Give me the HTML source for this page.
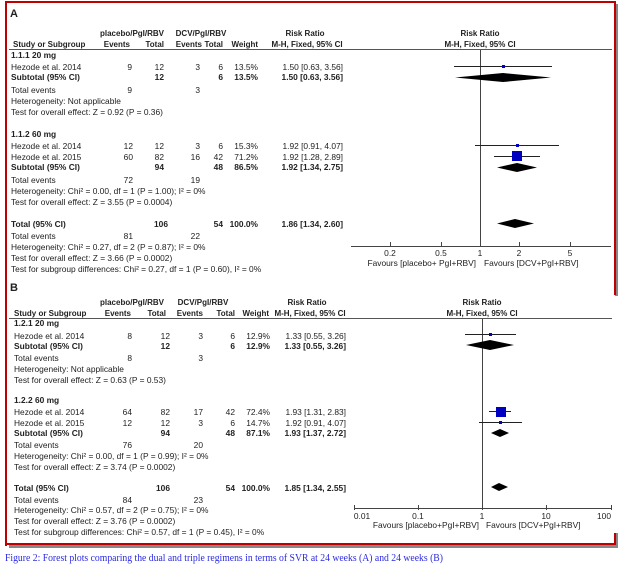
<!DOCTYPE html>
<html><head><meta charset="utf-8"><style>
html,body{margin:0;padding:0;background:#fff;}
svg{display:block}
text{font-family:"Liberation Sans",Arial,sans-serif;font-size:8.4px;fill:#222}
.b{font-weight:bold}
.h{font-weight:bold;font-size:8px}
.cap{font-family:"Liberation Serif",serif;font-size:10px;fill:#2a2ae0}
</style></head><body>
<svg width="623" height="569" viewBox="0 0 623 569">
<rect x="9" y="545" width="609" height="3" fill="#888"/>
<rect x="615" y="4" width="3" height="292" fill="#888"/>
<rect x="615" y="533" width="3" height="15" fill="#888"/>
<rect x="5" y="1" width="611" height="2" fill="#c00000"/>
<rect x="5" y="1" width="2" height="545" fill="#c00000"/>
<rect x="5" y="543" width="611" height="2" fill="#c00000"/>
<rect x="614" y="1" width="2" height="294" fill="#c00000"/>
<rect x="614" y="533" width="2" height="12" fill="#c00000"/>

<!-- ===== Panel A ===== -->
<text x="10" y="17" class="b" style="font-size:11px">A</text>
<text x="132" y="36" class="h" text-anchor="middle">placebo/PgI/RBV</text>
<text x="201" y="36" class="h" text-anchor="middle">DCV/PgI/RBV</text>
<text x="305" y="36" class="h" text-anchor="middle">Risk Ratio</text>
<text x="480" y="36" class="h" text-anchor="middle">Risk Ratio</text>
<text x="13" y="47" class="h">Study or Subgroup</text>
<text x="130" y="47" class="h" text-anchor="end">Events</text>
<text x="164" y="47" class="h" text-anchor="end">Total</text>
<text x="202" y="47" class="h" text-anchor="end">Events</text>
<text x="223" y="47" class="h" text-anchor="end">Total</text>
<text x="258" y="47" class="h" text-anchor="end">Weight</text>
<text x="307" y="47" class="h" text-anchor="middle">M-H, Fixed, 95% CI</text>
<text x="480" y="47" class="h" text-anchor="middle">M-H, Fixed, 95% CI</text>
<rect x="9" y="49" width="603" height="1" fill="#555"/>

<text x="11" y="58" class="b">1.1.1 20 mg</text>
<text x="11" y="70">Hezode et al. 2014</text>
<text x="132" y="70" text-anchor="end">9</text><text x="164" y="70" text-anchor="end">12</text>
<text x="200" y="70" text-anchor="end">3</text><text x="223" y="70" text-anchor="end">6</text>
<text x="258" y="70" text-anchor="end">13.5%</text><text x="343" y="70" text-anchor="end">1.50 [0.63, 3.56]</text>
<text x="11" y="80" class="b">Subtotal (95% CI)</text>
<text x="164" y="80" class="b" text-anchor="end">12</text><text x="223" y="80" class="b" text-anchor="end">6</text>
<text x="258" y="80" class="b" text-anchor="end">13.5%</text><text x="343" y="80" class="b" text-anchor="end">1.50 [0.63, 3.56]</text>
<text x="11" y="93">Total events</text><text x="132" y="93" text-anchor="end">9</text><text x="200" y="93" text-anchor="end">3</text>
<text x="11" y="104">Heterogeneity: Not applicable</text>
<text x="11" y="115">Test for overall effect: Z = 0.92 (P = 0.36)</text>

<text x="11" y="137" class="b">1.1.2 60 mg</text>
<text x="11" y="149">Hezode et al. 2014</text>
<text x="133" y="149" text-anchor="end">12</text><text x="164" y="149" text-anchor="end">12</text>
<text x="200" y="149" text-anchor="end">3</text><text x="223" y="149" text-anchor="end">6</text>
<text x="258" y="149" text-anchor="end">15.3%</text><text x="343" y="149" text-anchor="end">1.92 [0.91, 4.07]</text>
<text x="11" y="160">Hezode et al. 2015</text>
<text x="133" y="160" text-anchor="end">60</text><text x="164" y="160" text-anchor="end">82</text>
<text x="200" y="160" text-anchor="end">16</text><text x="223" y="160" text-anchor="end">42</text>
<text x="258" y="160" text-anchor="end">71.2%</text><text x="343" y="160" text-anchor="end">1.92 [1.28, 2.89]</text>
<text x="11" y="170" class="b">Subtotal (95% CI)</text>
<text x="164" y="170" class="b" text-anchor="end">94</text><text x="223" y="170" class="b" text-anchor="end">48</text>
<text x="258" y="170" class="b" text-anchor="end">86.5%</text><text x="343" y="170" class="b" text-anchor="end">1.92 [1.34, 2.75]</text>
<text x="11" y="183">Total events</text><text x="133" y="183" text-anchor="end">72</text><text x="200" y="183" text-anchor="end">19</text>
<text x="11" y="194">Heterogeneity: Chi² = 0.00, df = 1 (P = 1.00); I² = 0%</text>
<text x="11" y="205">Test for overall effect: Z = 3.55 (P = 0.0004)</text>

<text x="11" y="227" class="b">Total (95% CI)</text>
<text x="168" y="227" class="b" text-anchor="end">106</text><text x="223" y="227" class="b" text-anchor="end">54</text>
<text x="258" y="227" class="b" text-anchor="end">100.0%</text><text x="343" y="227" class="b" text-anchor="end">1.86 [1.34, 2.60]</text>
<text x="11" y="239">Total events</text><text x="133" y="239" text-anchor="end">81</text><text x="200" y="239" text-anchor="end">22</text>
<text x="11" y="250">Heterogeneity: Chi² = 0.27, df = 2 (P = 0.87); I² = 0%</text>
<text x="11" y="261">Test for overall effect: Z = 3.66 (P = 0.0002)</text>
<text x="11" y="272">Test for subgroup differences: Chi² = 0.27, df = 1 (P = 0.60), I² = 0%</text>

<rect x="480" y="50" width="1" height="197" fill="#444"/>
<rect x="351" y="246" width="260" height="1" fill="#444"/>
<g fill="#444">
<rect x="390" y="242" width="1" height="5"/><rect x="441" y="242" width="1" height="5"/>
<rect x="480" y="242" width="1" height="5"/><rect x="519" y="242" width="1" height="5"/><rect x="570" y="242" width="1" height="5"/>
</g>
<text x="390" y="256" text-anchor="middle">0.2</text><text x="441" y="256" text-anchor="middle">0.5</text>
<text x="480" y="256" text-anchor="middle">1</text><text x="519" y="256" text-anchor="middle">2</text><text x="570" y="256" text-anchor="middle">5</text>
<text x="476" y="266" text-anchor="end">Favours [placebo+ PgI+RBV]</text>
<text x="484" y="266">Favours [DCV+PgI+RBV]</text>
<rect x="454" y="66" width="98" height="1" fill="#222"/>
<rect x="502" y="65" width="3" height="3" fill="#0000c0"/>
<polygon points="455,77.5 503,73 551,77.5 503,82" fill="#000"/>
<rect x="475" y="145" width="84" height="1" fill="#222"/>
<rect x="516" y="144" width="3" height="3" fill="#0000c0"/>
<rect x="494" y="156" width="46" height="1" fill="#222"/>
<rect x="512" y="151" width="10" height="10" fill="#0000c0"/>
<polygon points="497,167.5 517,163 537,167.5 517,172" fill="#000"/>
<polygon points="497,223.5 515,219 534,223.5 515,228" fill="#000"/>

<!-- ===== Panel B ===== -->
<text x="10" y="291" class="b" style="font-size:11px">B</text>
<text x="132" y="305" class="h" text-anchor="middle">placebo/PgI/RBV</text>
<text x="203" y="305" class="h" text-anchor="middle">DCV/PgI/RBV</text>
<text x="307" y="305" class="h" text-anchor="middle">Risk Ratio</text>
<text x="482" y="305" class="h" text-anchor="middle">Risk Ratio</text>
<text x="14" y="316" class="h">Study or Subgroup</text>
<text x="131" y="316" class="h" text-anchor="end">Events</text>
<text x="166" y="316" class="h" text-anchor="end">Total</text>
<text x="203" y="316" class="h" text-anchor="end">Events</text>
<text x="235" y="316" class="h" text-anchor="end">Total</text>
<text x="269" y="316" class="h" text-anchor="end">Weight</text>
<text x="310" y="316" class="h" text-anchor="middle">M-H, Fixed, 95% CI</text>
<text x="482" y="316" class="h" text-anchor="middle">M-H, Fixed, 95% CI</text>
<rect x="9" y="318" width="603" height="1" fill="#555"/>

<text x="14" y="326" class="b">1.2.1 20 mg</text>
<text x="14" y="339">Hezode et al. 2014</text>
<text x="132" y="339" text-anchor="end">8</text><text x="170" y="339" text-anchor="end">12</text>
<text x="203" y="339" text-anchor="end">3</text><text x="235" y="339" text-anchor="end">6</text>
<text x="270" y="339" text-anchor="end">12.9%</text><text x="346" y="339" text-anchor="end">1.33 [0.55, 3.26]</text>
<text x="14" y="349" class="b">Subtotal (95% CI)</text>
<text x="170" y="349" class="b" text-anchor="end">12</text><text x="235" y="349" class="b" text-anchor="end">6</text>
<text x="270" y="349" class="b" text-anchor="end">12.9%</text><text x="346" y="349" class="b" text-anchor="end">1.33 [0.55, 3.26]</text>
<text x="14" y="361">Total events</text><text x="132" y="361" text-anchor="end">8</text><text x="203" y="361" text-anchor="end">3</text>
<text x="14" y="372">Heterogeneity: Not applicable</text>
<text x="14" y="383">Test for overall effect: Z = 0.63 (P = 0.53)</text>

<text x="14" y="403" class="b">1.2.2 60 mg</text>
<text x="14" y="415">Hezode et al. 2014</text>
<text x="132" y="415" text-anchor="end">64</text><text x="170" y="415" text-anchor="end">82</text>
<text x="203" y="415" text-anchor="end">17</text><text x="235" y="415" text-anchor="end">42</text>
<text x="270" y="415" text-anchor="end">72.4%</text><text x="346" y="415" text-anchor="end">1.93 [1.31, 2.83]</text>
<text x="14" y="426">Hezode et al. 2015</text>
<text x="132" y="426" text-anchor="end">12</text><text x="170" y="426" text-anchor="end">12</text>
<text x="203" y="426" text-anchor="end">3</text><text x="235" y="426" text-anchor="end">6</text>
<text x="270" y="426" text-anchor="end">14.7%</text><text x="346" y="426" text-anchor="end">1.92 [0.91, 4.07]</text>
<text x="14" y="436" class="b">Subtotal (95% CI)</text>
<text x="170" y="436" class="b" text-anchor="end">94</text><text x="235" y="436" class="b" text-anchor="end">48</text>
<text x="270" y="436" class="b" text-anchor="end">87.1%</text><text x="346" y="436" class="b" text-anchor="end">1.93 [1.37, 2.72]</text>
<text x="14" y="448">Total events</text><text x="132" y="448" text-anchor="end">76</text><text x="203" y="448" text-anchor="end">20</text>
<text x="14" y="459">Heterogeneity: Chi² = 0.00, df = 1 (P = 0.99); I² = 0%</text>
<text x="14" y="470">Test for overall effect: Z = 3.74 (P = 0.0002)</text>

<text x="14" y="491" class="b">Total (95% CI)</text>
<text x="170" y="491" class="b" text-anchor="end">106</text><text x="235" y="491" class="b" text-anchor="end">54</text>
<text x="270" y="491" class="b" text-anchor="end">100.0%</text><text x="346" y="491" class="b" text-anchor="end">1.85 [1.34, 2.55]</text>
<text x="14" y="503">Total events</text><text x="132" y="503" text-anchor="end">84</text><text x="203" y="503" text-anchor="end">23</text>
<text x="14" y="513">Heterogeneity: Chi² = 0.57, df = 2 (P = 0.75); I² = 0%</text>
<text x="14" y="524">Test for overall effect: Z = 3.76 (P = 0.0002)</text>
<text x="14" y="535">Test for subgroup differences: Chi² = 0.57, df = 1 (P = 0.45), I² = 0%</text>

<rect x="482" y="319" width="1" height="189" fill="#444"/>
<rect x="354" y="508" width="258" height="1" fill="#444"/>
<g fill="#444">
<rect x="354" y="505" width="1" height="5"/><rect x="418" y="505" width="1" height="5"/>
<rect x="482" y="505" width="1" height="5"/><rect x="546" y="505" width="1" height="5"/><rect x="611" y="505" width="1" height="5"/>
</g>
<text x="362" y="519" text-anchor="middle">0.01</text><text x="418" y="519" text-anchor="middle">0.1</text>
<text x="482" y="519" text-anchor="middle">1</text><text x="546" y="519" text-anchor="middle">10</text><text x="604" y="519" text-anchor="middle">100</text>
<text x="479" y="528" text-anchor="end">Favours [placebo+PgI+RBV]</text>
<text x="486" y="528">Favours [DCV+PgI+RBV]</text>
<rect x="465" y="334" width="51" height="1" fill="#222"/>
<rect x="489" y="333" width="3" height="3" fill="#0000c0"/>
<polygon points="466,345 490,340 514,345 490,350" fill="#000"/>
<rect x="489" y="411" width="22" height="1" fill="#222"/>
<rect x="496" y="407" width="10" height="10" fill="#0000c0"/>
<rect x="479" y="422" width="43" height="1" fill="#222"/>
<rect x="499" y="421" width="3" height="3" fill="#0000c0"/>
<polygon points="491,433 500,429 509,433 500,437" fill="#000"/>
<polygon points="491,487 499,483 508,487 499,491" fill="#000"/>

<text x="5" y="561" class="cap" textLength="438" lengthAdjust="spacingAndGlyphs">Figure 2: Forest plots comparing the dual and triple regimens in terms of SVR at 24 weeks (A) and 24 weeks (B)</text>
</svg>
</body></html>
